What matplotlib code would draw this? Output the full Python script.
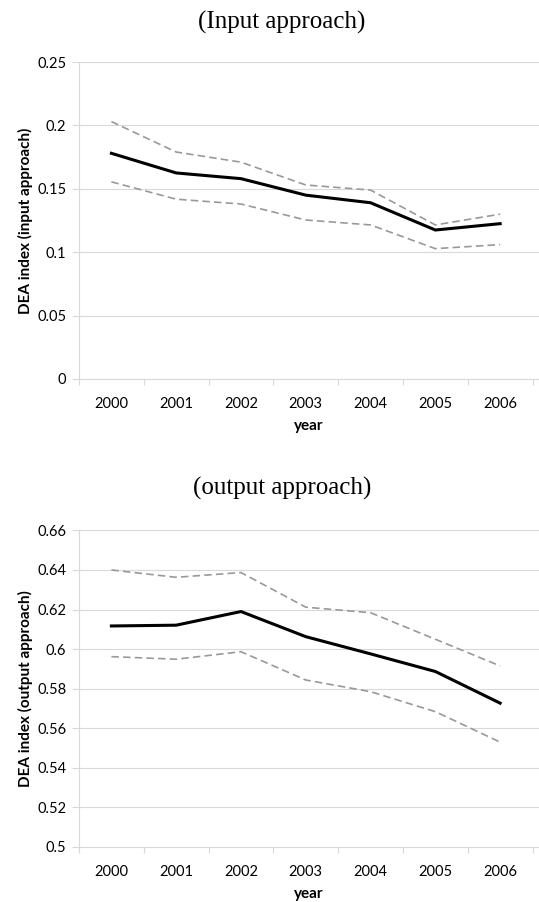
import matplotlib.pyplot as plt

years = ["2000", "2001", "2002", "2003", "2004", "2005", "2006"]

input_mean = [0.178, 0.1625, 0.158, 0.145, 0.139, 0.1175, 0.1225]
input_upper = [0.203, 0.179, 0.171, 0.153, 0.149, 0.1215, 0.130]
input_lower = [0.1555, 0.1418, 0.138, 0.1254, 0.1215, 0.1028, 0.106]

output_mean = [0.6117, 0.6121, 0.619, 0.6063, 0.5976, 0.5887, 0.5727]
output_upper = [0.640, 0.6363, 0.6387, 0.6212, 0.6184, 0.605, 0.5915]
output_lower = [0.5962, 0.5949, 0.5987, 0.5844, 0.5785, 0.5684, 0.553]

input_ticks = [0, 0.05, 0.1, 0.15, 0.2, 0.25]
input_labels = ["0", "0.05", "0.1", "0.15", "0.2", "0.25"]
output_ticks = [0.5, 0.52, 0.54, 0.56, 0.58, 0.6, 0.62, 0.64, 0.66]
output_labels = ["0.5", "0.52", "0.54", "0.56", "0.58", "0.6", "0.62", "0.64", "0.66"]

plt.rcParams["font.family"] = ["Lato", "DejaVu Sans"]

fig = plt.figure(figsize=(5.39, 9.02), dpi=100)

grid_c = "#d9d9d9"
x = list(range(len(years)))


def draw(ax, mean, upper, lower, ticks, labels, ylabel):
    ax.set_xlim(-0.5, 6.6)
    ax.set_ylim(ticks[0], ticks[-1])
    ax.set_yticks(ticks)
    ax.set_yticklabels(labels)
    ax.yaxis.grid(True, color=grid_c, lw=0.8)
    ax.set_axisbelow(True)
    for s in ["top", "right"]:
        ax.spines[s].set_visible(False)
    for s in ["left", "bottom"]:
        ax.spines[s].set_color(grid_c)
        ax.spines[s].set_linewidth(0.8)
    # ticks sit between the years, labels centred on each year
    ax.set_xticks([i - 0.5 for i in range(len(years) + 1)])
    ax.set_xticklabels([])
    ax.set_xticks(x, minor=True)
    ax.set_xticklabels(years, minor=True)
    ax.tick_params(axis="x", which="major", length=4, color=grid_c, width=0.8)
    ax.tick_params(axis="x", which="minor", length=0, pad=13, labelsize=10.5)
    ax.tick_params(axis="y", length=5, color=grid_c, width=0.8, labelsize=10.5, pad=4)

    ax.plot(x, upper, color="#999999", lw=1.2, dashes=(4.5, 2.5))
    ax.plot(x, lower, color="#999999", lw=1.2, dashes=(4.5, 2.5))
    ax.plot(x, mean, color="black", lw=2.2)

    ax.set_xlabel("year", fontsize=11, fontweight="bold", labelpad=6)
    ax.set_ylabel(ylabel, fontsize=11, fontweight="bold", labelpad=3)


ax1 = fig.add_axes([79 / 539, 1 - 379 / 902, 460 / 539, 317 / 902])
draw(ax1, input_mean, input_upper, input_lower, input_ticks, input_labels,
     "DEA index (input approach)")

ax2 = fig.add_axes([79 / 539, 1 - 847 / 902, 460 / 539, 316.6 / 902])
draw(ax2, output_mean, output_upper, output_lower, output_ticks, output_labels,
     "DEA index (output approach)")

fig.text(282 / 539, 1 - 22 / 902, "(Input approach)", ha="center", va="center",
         fontsize=18, family="Liberation Serif")
fig.text(282 / 539, 1 - 488 / 902, "(output approach)", ha="center", va="center",
         fontsize=18, family="Liberation Serif")

fig.savefig("out.png", dpi=100)
